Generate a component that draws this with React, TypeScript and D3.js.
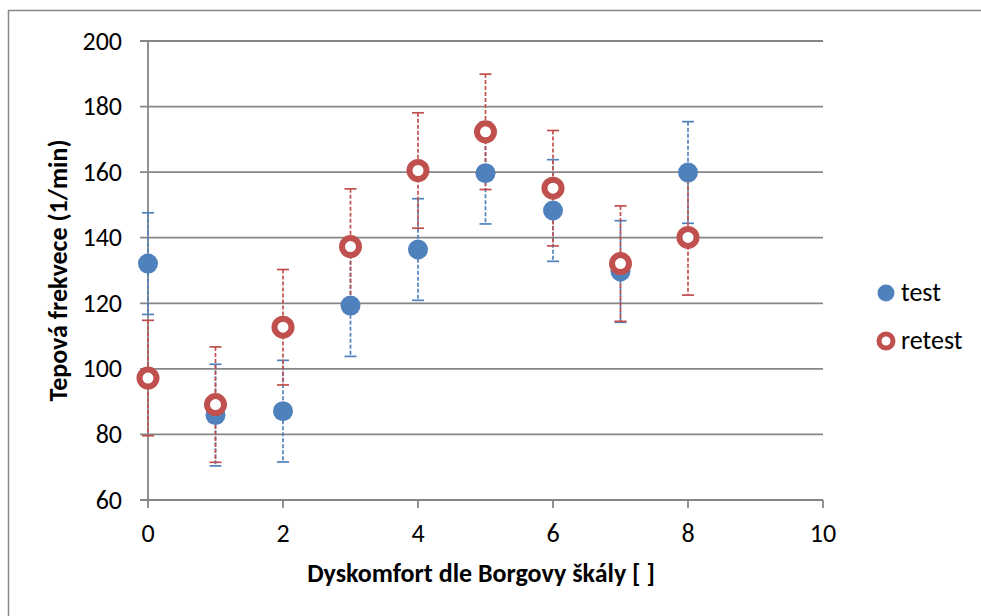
import React from "react";
import * as d3 from "d3";

const width = 981;
const height = 616;
const margin = { top: 41, right: 158, bottom: 116, left: 148 };

// Borg scale (x) and heart rate (y)
const borg = [0, 1, 2, 3, 4, 5, 6, 7, 8];
const testMean = [132.1, 85.9, 87.1, 119.3, 136.4, 159.7, 148.3, 129.7, 159.9];
const testErr = [15.5, 15.5, 15.5, 15.5, 15.5, 15.5, 15.5, 15.5, 15.5];
const retestMean = [97.2, 89.1, 112.7, 137.3, 160.5, 172.3, 155.1, 132.1, 140.1];
const retestErr = [17.6, 17.6, 17.6, 17.6, 17.6, 17.6, 17.6, 17.6, 17.6];

const xTicks = [0, 2, 4, 6, 8, 10];
const yTicks = [60, 80, 100, 120, 140, 160, 180, 200];
const seriesNames = ["test", "retest"];

const blue = "#4F81BD";
const red = "#C0504D";
const gray = "#868686";
const font = "Carlito, Calibri, 'Liberation Sans', Arial, sans-serif";

export default function App() {
  const x = d3.scaleLinear().domain([0, 10]).range([margin.left, width - margin.right]);
  const y = d3.scaleLinear().domain([60, 200]).range([height - margin.bottom, margin.top]);

  const series = [
    { name: seriesNames[0], mean: testMean, err: testErr, color: blue },
    { name: seriesNames[1], mean: retestMean, err: retestErr, color: red },
  ];

  const x0 = x(0);
  const x1 = x(10);
  const yBase = y(60);

  return (
    <div style={{ position: "absolute", left: 0, top: 0 }}>
      <svg width={width} height={height} style={{ display: "block", background: "#fff" }}>
        {/* chart border (runs off the right/bottom edge) */}
        <rect x={8.5} y={10.5} width={990} height={630} fill="#fff" stroke={gray} strokeWidth={1.5} />

        {/* gridlines */}
        {yTicks.map(t => (
          <line key={"g" + t} x1={x0 - 8} x2={x1} y1={y(t)} y2={y(t)} stroke={gray} strokeWidth={1.8} />
        ))}
        {/* y axis */}
        <line x1={x0} x2={x0} y1={y(200)} y2={yBase} stroke={gray} strokeWidth={1.8} />
        {/* x ticks */}
        {xTicks.map(t => (
          <line key={"xt" + t} x1={x(t)} x2={x(t)} y1={yBase} y2={yBase + 8} stroke={gray} strokeWidth={1.8} />
        ))}

        {/* tick labels */}
        {yTicks.map(t => (
          <text key={"yl" + t} x={122} y={y(t)} dy="0.33em" textAnchor="end"
            fontFamily={font} fontSize={26} fill="#000">{t}</text>
        ))}
        {xTicks.map(t => (
          <text key={"xl" + t} x={x(t)} y={542} textAnchor="middle"
            fontFamily={font} fontSize={26} fill="#000">{t}</text>
        ))}

        {/* axis titles */}
        <text x={481} y={582} textAnchor="middle" fontFamily={font} fontSize={26} fontWeight="bold">
          Dyskomfort dle Borgovy škály [ ]
        </text>
        <text transform={`translate(67,${(y(200) + yBase) / 2}) rotate(-90)`} textAnchor="middle"
          fontFamily={font} fontSize={26} fontWeight="bold">
          Tepová frekvece (1/min)
        </text>

        {/* error bars */}
        {series.map(s => (
          <g key={"e" + s.name} stroke={s.color} strokeWidth={1.7}>
            {borg.map((b, i) => {
              const cx = x(b);
              const top = y(s.mean[i] + s.err[i]);
              const bot = y(s.mean[i] - s.err[i]);
              return (
                <g key={i}>
                  <line x1={cx} x2={cx} y1={top} y2={bot} strokeDasharray="4,2" />
                  <line x1={cx - 6} x2={cx + 6} y1={top} y2={top} />
                  <line x1={cx - 6} x2={cx + 6} y1={bot} y2={bot} />
                </g>
              );
            })}
          </g>
        ))}

        {/* markers */}
        {borg.map((b, i) => (
          <circle key={"t" + i} cx={x(b)} cy={y(testMean[i])} r={10} fill={blue} />
        ))}
        {borg.map((b, i) => (
          <circle key={"r" + i} cx={x(b)} cy={y(retestMean[i])} r={8.5} fill="#fff" stroke={red} strokeWidth={6} />
        ))}

        {/* legend */}
        <circle cx={886} cy={293} r={8.5} fill={blue} />
        <text x={901} y={301} fontFamily={font} fontSize={26}>{seriesNames[0]}</text>
        <circle cx={886} cy={341} r={7} fill="#fff" stroke={red} strokeWidth={5} />
        <text x={901} y={349} fontFamily={font} fontSize={26}>{seriesNames[1]}</text>
      </svg>
    </div>
  );
}
